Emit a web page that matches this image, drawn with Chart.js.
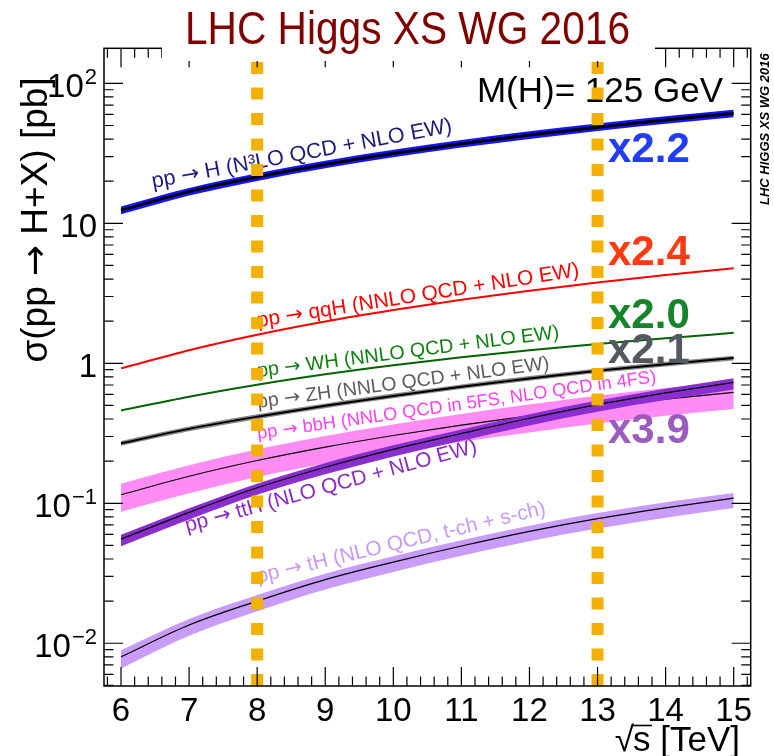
<!DOCTYPE html>
<html>
<head>
<meta charset="utf-8">
<script src="https://cdn.jsdelivr.net/npm/chart.js@4.4.1/dist/chart.umd.min.js"></script>
<style>
  html, body { margin: 0; padding: 0; background: #ffffff; }
  #wrap { width: 774px; height: 756px; }
</style>
</head>
<body>
<div id="wrap"><canvas id="c" width="774" height="756"></canvas></div>
<script>
// Centre-of-mass energies (TeV)
const sqrtS = [6, 7, 8, 9, 10, 11, 12, 13, 14, 15];

// Cross sections for M(H) = 125 GeV, in pb
const ggH    = [12.4, 16.85, 21.42, 26.3, 31.5, 37.0, 42.7, 48.6, 54.7, 61.0];
const ggH_hi = [13.2, 17.9, 22.8, 28.0, 33.5, 39.4, 45.4, 51.7, 58.2, 64.9];
const ggH_lo = [11.6, 15.8, 20.1, 24.7, 29.6, 34.8, 40.1, 45.7, 51.4, 57.3];

const qqH = [0.92, 1.241, 1.601, 1.99, 2.40, 2.84, 3.30, 3.78, 4.28, 4.78];
const WH  = [0.46, 0.577, 0.703, 0.835, 0.97, 1.105, 1.24, 1.373, 1.51, 1.65];

const ZH    = [0.268, 0.340, 0.415, 0.497, 0.585, 0.68, 0.78, 0.884, 0.986, 1.09];
const ZH_hi = [0.279, 0.354, 0.432, 0.517, 0.608, 0.707, 0.811, 0.919, 1.025, 1.134];
const ZH_lo = [0.258, 0.327, 0.399, 0.478, 0.563, 0.655, 0.751, 0.851, 0.949, 1.049];

const bbH    = [0.115, 0.156, 0.202, 0.252, 0.305, 0.362, 0.422, 0.488, 0.555, 0.62];
const bbH_hi = [0.138, 0.187, 0.243, 0.303, 0.366, 0.435, 0.507, 0.586, 0.666, 0.744];
const bbH_lo = [0.087, 0.118, 0.154, 0.192, 0.232, 0.275, 0.321, 0.371, 0.422, 0.471];

const ttH    = [0.0555, 0.0861, 0.129, 0.181, 0.243, 0.315, 0.405, 0.507, 0.614, 0.73];
const ttH_hi = [0.0595, 0.092, 0.138, 0.194, 0.26, 0.337, 0.433, 0.542, 0.657, 0.781];
const ttH_lo = [0.0494, 0.0766, 0.115, 0.161, 0.216, 0.280, 0.360, 0.451, 0.546, 0.650];

const tH    = [0.0080, 0.0135, 0.0200, 0.0285, 0.038, 0.0495, 0.063, 0.0776, 0.0927, 0.1087];
const tH_hi = [0.0089, 0.0149, 0.0221, 0.0314, 0.0418, 0.0544, 0.0692, 0.0852, 0.1018, 0.1185];
const tH_lo = [0.0066, 0.0113, 0.0169, 0.0242, 0.0323, 0.0421, 0.0536, 0.066, 0.0788, 0.0924];

// Marked LHC run energies (TeV)
const runEnergies = [8, 13];

// Axis ticks
const xTickValues = [6, 7, 8, 9, 10, 11, 12, 13, 14, 15];
const xTickLabels = ['6', '7', '8', '9', '10', '11', '12', '13', '14', '15'];
const yTickValues = [0.01, 0.1, 1, 10, 100];
const yTickLabels = [['10', '\u22122'], ['10', '\u22121'], ['1', ''], ['10', ''], ['10', '2']];

// Growth factors from 8 to 13 TeV
const ratioLabels = ['x2.2', 'x2.4', 'x2.0', 'x2.1', 'x3.9'];

const FONT = "'Liberation Sans', Arimo, Helvetica, Arial, sans-serif";
const ARROW_FONT = "'DejaVu Sans', sans-serif";
const ARROW = '\u2192';

function pts(arr) { return sqrtS.map((v, i) => ({ x: v, y: arr[i] })); }

function band(hi, lo, color, order) {
  return [
    { data: pts(hi), borderWidth: 0, pointRadius: 0, backgroundColor: color, fill: '+1', order: order, tension: 0.4, cubicInterpolationMode: 'monotone' },
    { data: pts(lo), borderWidth: 0, pointRadius: 0, backgroundColor: color, fill: false, order: order, tension: 0.4, cubicInterpolationMode: 'monotone' }
  ];
}
function line(arr, color, width, order) {
  return { data: pts(arr), borderColor: color, borderWidth: width, pointRadius: 0, fill: false, order: order, tension: 0.4, cubicInterpolationMode: 'monotone' };
}

const datasets = [
  ...band(ggH_hi, ggH_lo, '#1414ff', 60),
  line(ggH, '#000000', 3, 59),
  line(qqH, '#ff0000', 2, 58),
  line(WH, '#006400', 2, 57),
  ...band(ZH_hi, ZH_lo, '#8a8a8a', 56),
  line(ZH, '#000000', 2, 55),
  ...band(bbH_hi, bbH_lo, '#ff8cf4', 54),
  line(bbH, '#000000', 1.2, 53),
  ...band(ttH_hi, ttH_lo, '#8a2ed0', 52),
  line(ttH, '#000000', 1.2, 51),
  ...band(tH_hi, tH_lo, '#c89cf8', 50),
  line(tH, '#000000', 1.2, 49)
];

// Text with the arrow glyph taken from a font that draws a full-width arrow
function runs(text) {
  const parts = text.split(ARROW);
  const out = [];
  parts.forEach((p, i) => {
    if (i > 0) out.push({ t: ARROW, arrow: true });
    if (p) out.push({ t: p, arrow: false });
  });
  return out;
}
function runsWidth(ctx, text, size) {
  let w = 0;
  runs(text).forEach(r => {
    ctx.font = size + 'px ' + (r.arrow ? ARROW_FONT : FONT);
    w += ctx.measureText(r.t).width;
  });
  return w;
}
function drawRuns(ctx, text, x, y, size) {
  let cx = x;
  runs(text).forEach(r => {
    ctx.font = size + 'px ' + (r.arrow ? ARROW_FONT : FONT);
    ctx.fillText(r.t, cx, y);
    cx += ctx.measureText(r.t).width;
  });
}

// Label laid along a straight baseline from (x0,y0) to (x1,y1)
function drawAlong(ctx, text, x0, y0, x1, y1, color) {
  const len = Math.hypot(x1 - x0, y1 - y0);
  const ang = Math.atan2(y1 - y0, x1 - x0);
  const size = 20 * len / runsWidth(ctx, text, 20);
  ctx.save();
  ctx.translate(x0, y0);
  ctx.rotate(ang);
  ctx.fillStyle = color;
  ctx.textAlign = 'left';
  ctx.textBaseline = 'alphabetic';
  drawRuns(ctx, text, 0, 0, size);
  ctx.restore();
}

const rootStyle = {
  id: 'rootStyle',
  afterDatasetsDraw(chart) {
    const { ctx, chartArea: a, scales: { x, y } } = chart;

    // Process labels running along the curves
    drawAlong(ctx, 'pp \u2192 H (N\u00B3LO QCD + NLO EW)', 153, 188, 453, 132, '#1c1c7c');
    drawAlong(ctx, 'pp \u2192 qqH (NNLO QCD + NLO EW)', 258, 327, 580, 276, '#ff0000');
    drawAlong(ctx, 'pp \u2192 WH (NNLO QCD + NLO EW)', 258, 377, 560, 338, '#138013');
    drawAlong(ctx, 'pp \u2192 ZH (NNLO QCD + NLO EW)', 258, 408, 550, 369, '#5c5c5c');
    drawAlong(ctx, 'pp \u2192 bbH (NNLO QCD in 5FS, NLO QCD in 4FS)', 258, 439, 657, 382, '#ff40f0');
    drawAlong(ctx, 'pp \u2192 ttH (NLO QCD + NLO EW)', 187, 532, 478, 452, '#8a2bc8');
    drawAlong(ctx, 'pp \u2192 tH (NLO QCD, t-ch + s-ch)', 258, 583, 547, 514, '#c79af6');

    // Ratio annotations
    ctx.save();
    ctx.font = 'bold 42px ' + FONT;
    ctx.textAlign = 'left';
    ctx.textBaseline = 'alphabetic';
    const ratioColors = ['#1f3cff', '#ff3a10', '#16852a', '#545960', '#9b5bbf'];
    const ratioBase = [162, 265, 328, 363, 443];
    ratioLabels.forEach((t, i) => { ctx.fillStyle = ratioColors[i]; ctx.fillText(t, 608, ratioBase[i]); });
    ctx.restore();

    // M(H) text
    ctx.save();
    ctx.font = '35px ' + FONT;
    ctx.fillStyle = '#000';
    ctx.textAlign = 'right';
    ctx.fillText('M(H)= 125 GeV', 723, 102);
    ctx.restore();

    // Dashed vertical lines at the run energies
    ctx.save();
    ctx.strokeStyle = '#f2b000';
    ctx.lineWidth = 12;
    ctx.setLineDash([12, 13.5]);
    runEnergies.forEach(e => {
      const px = x.getPixelForValue(e);
      ctx.beginPath();
      ctx.moveTo(px, 62);
      ctx.lineTo(px, a.bottom);
      ctx.stroke();
    });
    ctx.restore();

    // Frame
    ctx.save();
    ctx.strokeStyle = '#000';
    ctx.lineWidth = 1.5;
    ctx.strokeRect(a.left, a.top, a.right - a.left, a.bottom - a.top);

    // Ticks on all four sides, pointing inwards
    ctx.lineWidth = 1.2;
    const majorLen = 19, minorLen = 9.5;
    ctx.beginPath();
    for (let v = 5.8; v <= 15.25; v += 0.2) {
      const r = Math.round(v * 10) / 10;
      const px = x.getPixelForValue(r);
      if (px < a.left + 0.5 || px > a.right - 0.5) continue;
      const len = Math.abs(r - Math.round(r)) < 1e-6 ? majorLen : minorLen;
      ctx.moveTo(px, a.bottom); ctx.lineTo(px, a.bottom - len);
      ctx.moveTo(px, a.top); ctx.lineTo(px, a.top + len);
    }
    for (let d = -3; d <= 2; d++) {
      for (let m = 1; m <= 9; m++) {
        const v = m * Math.pow(10, d);
        if (v < y.min || v > y.max) continue;
        const py = y.getPixelForValue(v);
        const len = m === 1 ? majorLen : minorLen;
        ctx.moveTo(a.left, py); ctx.lineTo(a.left + len, py);
        ctx.moveTo(a.right, py); ctx.lineTo(a.right - len, py);
      }
    }
    ctx.stroke();
    ctx.restore();

    // Title panel
    ctx.save();
    ctx.fillStyle = '#ffffff';
    ctx.fillRect(162, 0, 493, 61);
    ctx.fillStyle = '#800000';
    ctx.font = '47px ' + FONT;
    ctx.textBaseline = 'alphabetic';
    const title = 'LHC Higgs XS WG 2016';
    const tw = ctx.measureText(title).width;
    ctx.translate(185, 44);
    ctx.scale(445 / tw, 1);
    ctx.fillText(title, 0, 0);
    ctx.restore();

    // Tick labels
    ctx.save();
    ctx.fillStyle = '#000';
    ctx.font = '33px ' + FONT;
    ctx.textAlign = 'center';
    ctx.textBaseline = 'alphabetic';
    xTickValues.forEach((v, i) => ctx.fillText(xTickLabels[i], x.getPixelForValue(v), 721));
    yTickValues.forEach((v, i) => {
      const py = y.getPixelForValue(v) + 14;
      const [base, sup] = yTickLabels[i];
      let right = 97;
      ctx.textAlign = 'right';
      if (sup) {
        ctx.font = '22px ' + FONT;
        ctx.fillText(sup, right, py - 13);
        right -= ctx.measureText(sup).width + 1;
      }
      ctx.font = '33px ' + FONT;
      ctx.fillText(base, right, py);
    });
    ctx.restore();

    // Axis titles
    ctx.save();
    ctx.fillStyle = '#000';
    ctx.textBaseline = 'alphabetic';
    ctx.font = '35px ' + FONT;
    ctx.textAlign = 'right';
    ctx.fillText('s [TeV]', 740, 751);
    const sW = ctx.measureText('s [TeV]').width;
    const rootX = 740 - sW;
    ctx.fillText('\u221A', rootX + 1, 751);
    ctx.lineWidth = 1.6;
    ctx.beginPath();
    ctx.moveTo(rootX - 1, 725.5);
    ctx.lineTo(rootX + 19, 725.5);
    ctx.stroke();

    ctx.translate(47, 220);
    ctx.rotate(-Math.PI / 2);
    ctx.textAlign = 'left';
    const yl = '\u03C3(pp \u2192 H+X) [pb]';
    const ylw = runsWidth(ctx, yl, 37);
    drawRuns(ctx, yl, -ylw / 2, 0, 37);
    ctx.restore();

    // Side stamp
    ctx.save();
    ctx.fillStyle = '#000';
    ctx.font = 'italic bold 13px ' + FONT;
    ctx.translate(769, 205);
    ctx.rotate(-Math.PI / 2);
    ctx.textAlign = 'left';
    ctx.fillText('LHC HIGGS XS WG 2016', 0, 0);
    ctx.restore();
  }
};

new Chart(document.getElementById('c'), {
  type: 'line',
  data: { datasets },
  options: {
    responsive: false,
    animation: false,
    events: [],
    layout: { padding: { left: 104, right: 23.3, top: 48.3, bottom: 70 } },
    plugins: { legend: { display: false }, tooltip: { enabled: false } },
    scales: {
      x: { type: 'linear', min: 5.75, max: 15.25, display: false },
      y: { type: 'logarithmic', min: 0.00495, max: 178, display: false }
    }
  },
  plugins: [rootStyle]
});
</script>
</body>
</html>
